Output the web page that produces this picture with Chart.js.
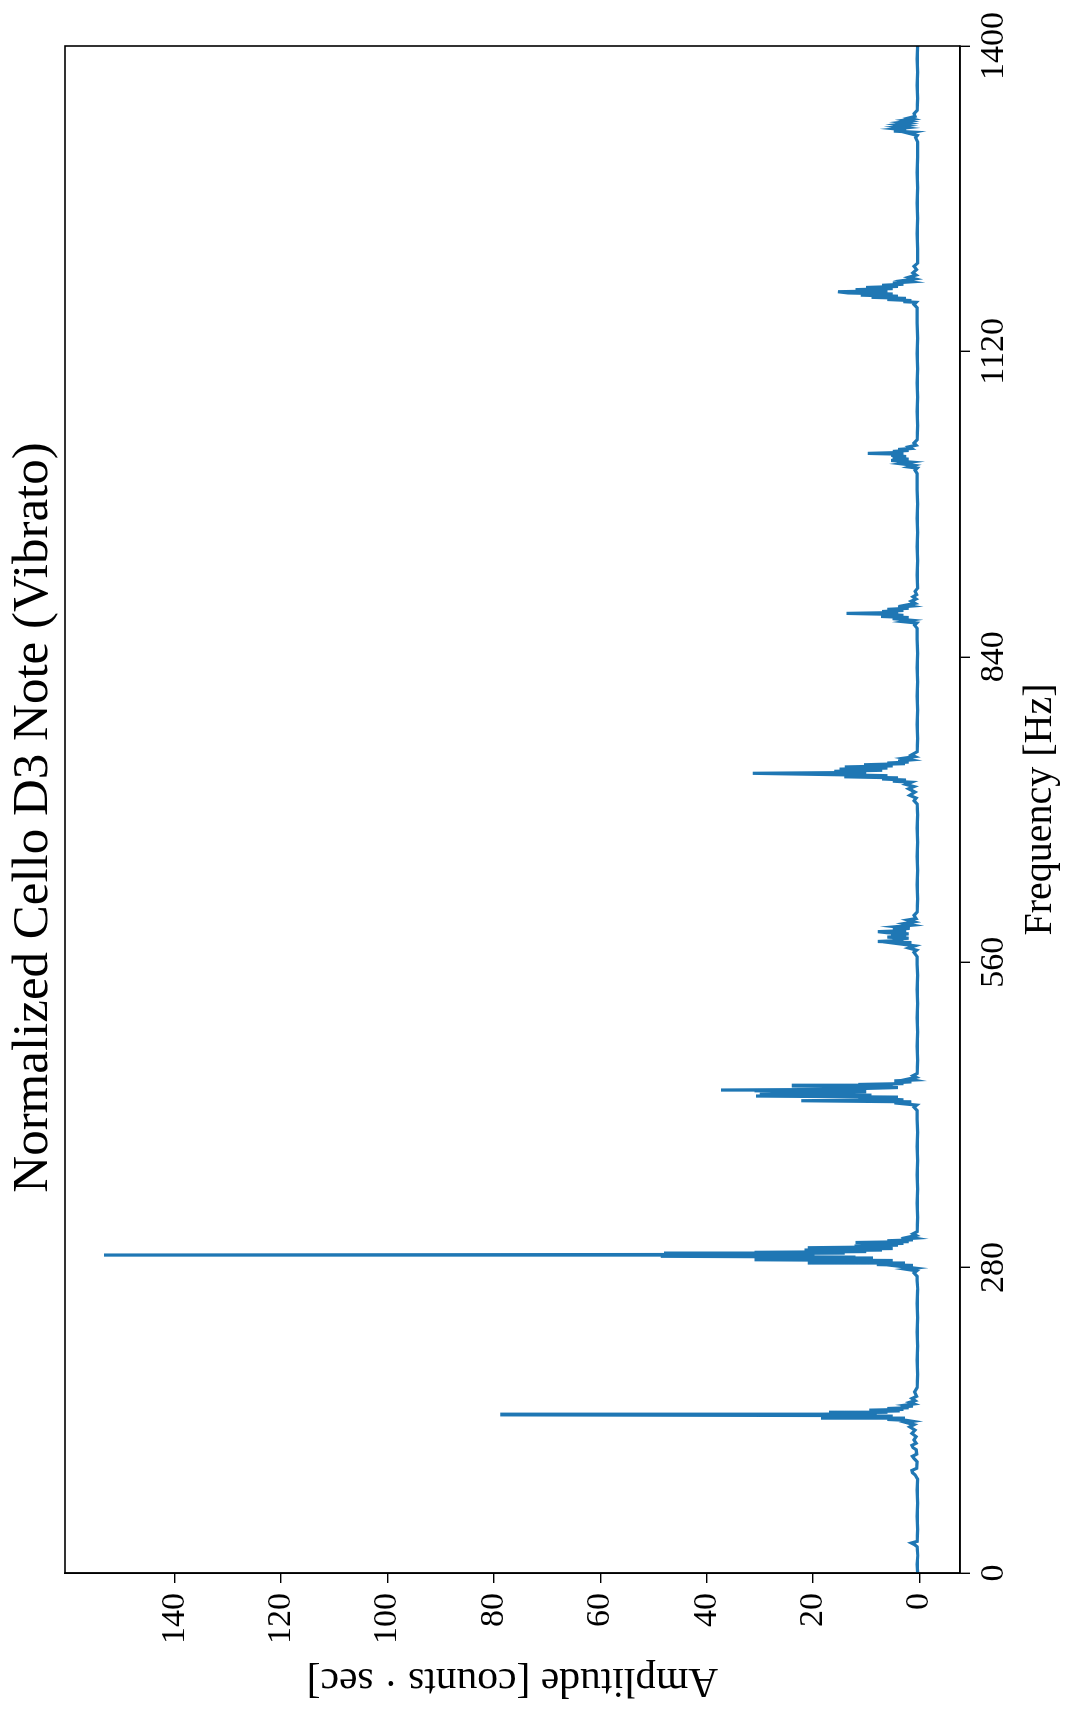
<!DOCTYPE html>
<html>
<head>
<meta charset="utf-8">
<title>Cello D3 spectrum</title>
<script src="https://cdn.jsdelivr.net/npm/chart.js"></script>
<style>
    html, body { margin:0; padding:0; background:#fff; overflow:hidden; }
    #page { position:relative; width:1070px; height:1711px; overflow:hidden; }
    /* the figure is drawn landscape and turned a quarter left */
    #rot { position:absolute; left:0; top:0; width:1711px; height:1070px;
           transform-origin:0 0; transform:translate(0px,1711px) rotate(-90deg); }
</style>
</head>
<body>
<div id="page"><div id="rot"><canvas id="spectrum" width="1711" height="1070"></canvas></div></div>

<script type="text/javascript">
    // spectrum, [frequency Hz, amplitude]
    const lowBand = [[0,0.3],[8,0.4],[16,0.3],[24,0.4],[26,0.9],[27.5,1.5],[29,0.4],[40,0.3],[52,0.4],[64,0.3],[76,0.4],
        [86,0.3],[90,0.8],[92,1.3],[94,1.4],[96,0.5],[102,0.4],[105,1.0],[107,1.3],[109,0.5],[113,0.6],[115,1.2],[117,1.4],
        [119,0.6],[122,1.0],[125,0.6],[128,1.4],[131,0.8],[134,1.8],[136,1.0],[138,2.5],[139,1.2]];
    const harm1 = [[140,2.5],[140.8,6],[141.4,3],[142,18.5],[142.6,7],[143.2,12],[143.8,5],[144.4,18],[145,78.8],[145.6,18.5],
        [146.2,8],[146.8,17],[147.4,6],[148,9],[148.6,4],[149.3,9.4],[150,3],[150.8,6],[151.5,2],[152.3,3.5],[153,1.2],[154,2.5],
        [155,1],[156.5,1.8],[158,0.8],[160,1.4],[162,0.5],[166,0.9],[170,0.4]];
    const gap12 = [[182,0.3],[195,0.4],[208,0.3],[221,0.4],[234,0.3],[247,0.4],[260,0.3],[268,0.4]];
    const harm2 = [[272,0.4],[275,1.0],[277,0.5],[278.5,2.5],[279.5,0.8],[281,3.4],[282,1.2],[282.8,8],[283.5,3],[284.2,21],
        [285,6],[285.8,14],[286.5,5],[287.2,31],[288,9],[288.8,22],[289.6,12],[290.4,48.6],[291,20],[291.5,153.3],[292.1,28],
        [292.7,48],[293.3,14],[294,31],[294.7,10],[295.4,21.6],[296.1,7],[296.8,18],[297.5,5],[298.2,21],[299,6],[299.8,12.2],
        [300.6,4],[301.4,11],[302.2,3],[303,12],[303.8,2],[304.6,6],[305.4,1.5],[306.2,3.4],[307,0.8],[308,2],[309.5,0.6],
        [311,1.2],[313,0.4]];
    const gap23 = [[326,0.3],[339,0.4],[352,0.3],[365,0.4],[378,0.3],[391,0.4],[404,0.3],[416,0.4]];
    const harm3 = [[424,0.4],[427,1.0],[429,0.5],[431,4.7],[432,1.5],[433,22.2],[433.8,3],[434.6,6],[435.5,11.5],[436.3,4],
        [437.3,30.7],[438.1,9],[438.9,30],[439.7,12],[440.5,28],[441.3,10],[442.1,30.7],[442.8,37.3],[443.5,11],[444.3,10],
        [445.1,4],[445.8,8],[446.5,24],[447.2,5],[447.9,11.5],[448.7,3],[449.5,4.5],[450.3,1.5],[451.2,4.7],[452,1],[453,2],
        [454.5,0.6],[456,1.2],[458,0.4]];
    const gap34 = [[470,0.3],[483,0.4],[496,0.3],[509,0.4],[522,0.3],[535,0.4],[548,0.3],[558,0.4]];
    const harm4 = [[565,0.4],[569,1.0],[571,0.5],[573,2.0],[575,0.8],[577,4],[578,1.5],[579,7.8],[580,3],[581,5],[582,2],
        [583,6],[584,2.5],[585,5.3],[586,2],[587,6],[588,7.8],[589,2.5],[590,5],[591,1.8],[592.5,4.5],[594,1.2],[595.5,2.8],
        [597,1],[598.7,2.2],[600,0.6],[603,1],[606,0.4]];
    const gap45 = [[618,0.3],[631,0.4],[644,0.3],[657,0.4],[670,0.3],[683,0.4],[695,0.3]];
    const harm5 = [[705,0.4],[708,1.0],[710.5,0.6],[713,1.8],[716,0.8],[719,2.0],[721,1.0],[723,2.5],[725,1.5],[726,5],
        [727,2.5],[728,7],[729,4],[730,14.1],[731,6],[732,16.6],[733.2,31.3],[734,10],[735,16],[736,7],[737,15],[738,6],
        [739,14],[740,5],[741,10.4],[742,3],[742.6,6],[743.5,2],[744.5,4],[745.5,1.5],[747,3],[748.5,0.8],[750,1.5],[753,0.4]];
    const gap56 = [[765,0.3],[778,0.4],[791,0.3],[804,0.4],[817,0.3],[830,0.4],[843,0.3],[856,0.4]];
    const harm6 = [[866,0.4],[869,0.9],[871,0.5],[872.2,3],[873.5,1.5],[875,5],[876,2],[877,7.2],[878,3],[879,6],
        [879.8,13.7],[880.6,4],[881.5,7],[882.5,3],[883.5,6],[884.5,2],[885.5,4],[886.5,1.5],[887.4,2.5],[889,0.8],[891,1.5],
        [893,0.6],[895,1.2],[897,0.5],[900,0.8],[903,0.3]];
    const gap67 = [[915,0.4],[928,0.3],[941,0.4],[954,0.3],[967,0.4],[980,0.3],[993,0.4]];
    const harm7 = [[1008,0.4],[1011,0.8],[1013,0.4],[1014,2],[1015.5,1],[1017,3.5],[1018.5,1.5],[1020,5.3],[1021.2,2],
        [1022.4,5],[1023.6,2.5],[1024.8,5.3],[1025.7,3],[1026.5,9.7],[1027.4,3],[1028.3,5],[1029.2,2],[1030.1,4],[1031,1.5],
        [1032.5,2],[1034,0.6],[1036,1],[1039,0.4]];
    const gap78 = [[1052,0.3],[1065,0.4],[1078,0.3],[1091,0.4],[1104,0.3],[1118,0.4],[1132,0.3],[1146,0.4]];
    const harm8 = [[1160,0.4],[1163,1],[1165,0.6],[1165.6,3],[1166.6,1.5],[1167.6,6],[1168.6,2.5],[1169.6,9],[1170.6,4],
        [1171.6,11],[1172.6,5],[1173.6,13.4],[1174.7,15.3],[1175.6,6],[1176.6,12],[1177.6,5],[1178.6,10],[1179.6,4],
        [1180.6,7],[1181.6,3],[1182.7,5],[1183.8,1.5],[1185,3],[1186.5,0.8],[1188,2],[1190,0.6],[1192,1.2],[1195,0.5],
        [1198,1],[1201,0.3]];
    const gap89 = [[1214,0.3],[1228,0.4],[1242,0.3],[1256,0.4],[1270,0.3],[1284,0.4],[1298,0.3]];
    const harm9 = [[1312,0.3],[1316,0.7],[1318,0.4],[1320,2],[1321,1],[1322,4.8],[1323,2.5],[1324,4.5],[1325,2.5],
        [1326,4.2],[1327,2.5],[1328,4],[1329,2.2],[1330,3.5],[1331,1.8],[1332,2.8],[1333,1.2],[1334,2],[1335.5,0.8],
        [1338,1],[1341,0.4]];
    const tail = [[1352,0.3],[1364,0.4],[1376,0.3],[1388,0.4],[1400,0.3]];

    const freqTicks = [0, 280, 560, 840, 1120, 1400];
    const ampTicks = [0, 20, 40, 60, 80, 100, 120, 140];
    const titleText = 'Normalized Cello D3 Note (Vibrato)';

    const serif = "'Liberation Serif', 'DejaVu Serif', serif";

    var pts = [].concat(lowBand, harm1, gap12, harm2, gap23, harm3, gap34, harm4, gap45,
                        harm5, gap56, harm6, gap67, harm7, gap78, harm8, gap89, harm9, tail)
                .map(function(p) { return {x: p[0], y: p[1]}; });

    // box round the plot, and the title centred on the plot (not the canvas)
    const frame = {
        id: 'frame',
        afterDraw: function(chart) {
            var a = chart.chartArea, g = chart.ctx;
            g.save();
            g.strokeStyle = '#000';
            g.lineWidth = 1.6;
            g.strokeRect(a.left, a.top, a.right - a.left, a.bottom - a.top);
            g.fillStyle = '#000';
            g.font = '51px ' + serif;
            g.textAlign = 'center';
            g.textBaseline = 'middle';
            g.fillText(titleText, (a.left + a.right) / 2 - 8, 34);
            g.restore();
        }
    };

    function tickGrid() {
        return { display: true, drawOnChartArea: false, drawTicks: true, tickLength: 10, color: '#000', lineWidth: 1.4 };
    }

    function plain(v) { return String(v); }

    var ctx = document.getElementById('spectrum').getContext('2d');
    var spectrumChart = new Chart(ctx, {
        type: 'line',
        data: {
            datasets: [{ data: pts, borderColor: '#1f77b4', borderWidth: 3.2, pointRadius: 0, tension: 0, fill: false }]
        },
        options: {
            responsive: false,
            animation: false,
            devicePixelRatio: 1,
            layout: { padding: { left: 0, right: 46, top: 65, bottom: 0 } },
            plugins: {
                legend: { display: false },
                tooltip: { enabled: false },
                title: { display: false }
            },
            scales: {
                x: {
                    type: 'linear', min: 0, max: 1400,
                    afterBuildTicks: function(s) { s.ticks = freqTicks.map(function(v) { return {value: v}; }); },
                    afterFit: function(s) { s.height = 110; },
                    grid: tickGrid(),
                    border: { display: true, color: '#000', width: 1.6 },
                    ticks: { color: '#000', font: { family: serif, size: 34 }, padding: 4, maxRotation: 0, callback: plain },
                    title: { display: true, text: 'Frequency [Hz]', color: '#000',
                             font: { family: serif, size: 40 }, padding: { top: 0, bottom: 6 } }
                },
                y: {
                    type: 'linear', min: -7.65, max: 160.65,
                    afterBuildTicks: function(s) { s.ticks = ampTicks.map(function(v) { return {value: v}; }); },
                    afterFit: function(s) { s.width = 138; },
                    grid: tickGrid(),
                    border: { display: true, color: '#000', width: 1.6 },
                    ticks: { color: '#000', font: { family: serif, size: 34 }, padding: 10, callback: plain },
                    title: { display: true, text: 'Amplitude [counts \u00b7 sec]', color: '#000',
                             font: { family: serif, size: 41.5 }, padding: { top: 6, bottom: 0 } }
                }
            }
        },
        plugins: [frame]
    });
</script>
</body>
</html>
